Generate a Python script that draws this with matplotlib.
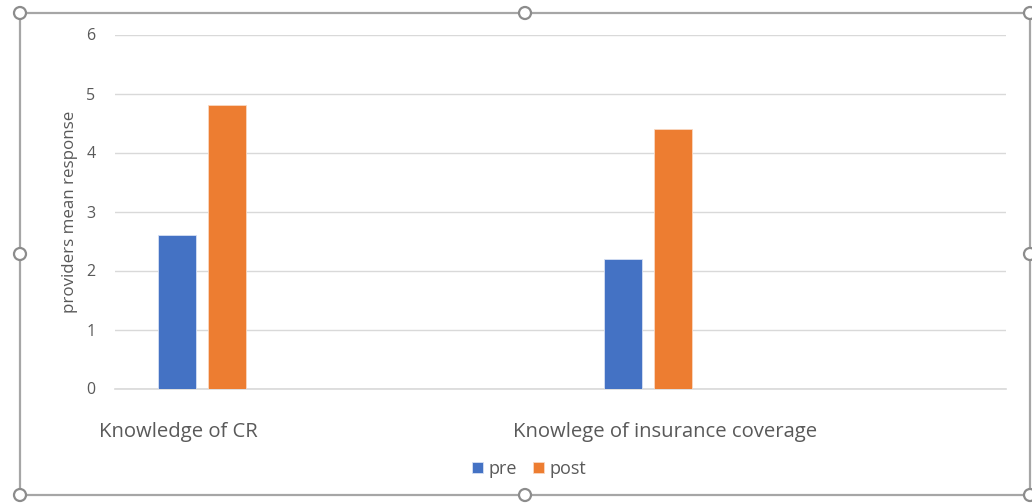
import matplotlib
matplotlib.use("Agg")
import matplotlib.pyplot as plt
from matplotlib.patches import Rectangle, Circle

categories = ["Knowledge of CR", "Knowlege of insurance coverage"]
series_names = ["pre", "post"]
pre_values = [2.6, 2.2]
post_values = [4.8, 4.4]
y_ticks = [0, 1, 2, 3, 4, 5, 6]

BLUE = "#4472C4"
ORANGE = "#ED7D31"
TEXT = "#595959"
GRID = "#D9D9D9"

plt.rcParams["font.family"] = ["Open Sans", "DejaVu Sans"]

W, H = 1032, 503
fig = plt.figure(figsize=(W / 100, H / 100), dpi=100)
fig.patch.set_facecolor("white")

# plot area in pixel terms
left, right, top, bottom = 115, 1006, 34.5, 388.5
ax = fig.add_axes([left / W, 1 - bottom / H, (right - left) / W, (bottom - top) / H])

bar_w = 0.0853
pre_off, post_off = 0.140, 0.252
xs = range(len(categories))
ax.bar([i + pre_off for i in xs], pre_values, width=bar_w, color=BLUE,
       edgecolor="#D6E0F3", linewidth=0.6, zorder=3, label=series_names[0])
ax.bar([i + post_off for i in xs], post_values, width=bar_w, color=ORANGE,
       edgecolor="#F9D8C2", linewidth=0.6, zorder=3, label=series_names[1])

ax.set_xlim(0, len(categories))
ax.set_ylim(0, 6)
ax.set_yticks(y_ticks)
ax.yaxis.grid(True, color=GRID, linewidth=1.0, zorder=0)
ax.axhline(0, color=GRID, linewidth=1.2, zorder=1, clip_on=False)
for s in ax.spines.values():
    s.set_visible(False)
ax.tick_params(axis="y", length=0, pad=14, labelsize=11.5, labelcolor=TEXT)

# category labels below the axis
ax.set_xticks([0.1414, 1.2346])
ax.set_xticklabels(categories)
ax.tick_params(axis="x", length=0, pad=24, labelsize=14.6, labelcolor=TEXT)

ax.set_ylabel("providers mean response", fontsize=12.2, color=TEXT, labelpad=6)

leg = fig.legend(loc="center", bbox_to_anchor=(529 / W, 1 - 469 / H), ncol=2,
                 frameon=False, fontsize=13, handlelength=0.6, handleheight=0.6,
                 handletextpad=0.3, columnspacing=0.9, labelcolor=TEXT)

# chart frame with selection handles
ov = fig.add_axes([0, 0, 1, 1], zorder=10)
ov.set_xlim(0, W)
ov.set_ylim(H, 0)
ov.axis("off")
ov.patch.set_alpha(0)
fx0, fy0, fx1, fy1 = 20, 13, 1030, 495
ov.add_patch(Rectangle((fx0, fy0), fx1 - fx0, fy1 - fy0, fill=False,
                       edgecolor="#A6A6A6", linewidth=1.6))
fxm, fym = (fx0 + fx1) / 2, (fy0 + fy1) / 2
for cx, cy in [(fx0, fy0), (fxm, fy0), (fx1, fy0), (fx0, fym), (fx1, fym),
               (fx0, fy1), (fxm, fy1), (fx1, fy1)]:
    ov.add_patch(Circle((cx, cy), 6, facecolor="white", edgecolor="#8C8C8C",
                        linewidth=1.6, zorder=11))

fig.savefig("out.png", dpi=100)
